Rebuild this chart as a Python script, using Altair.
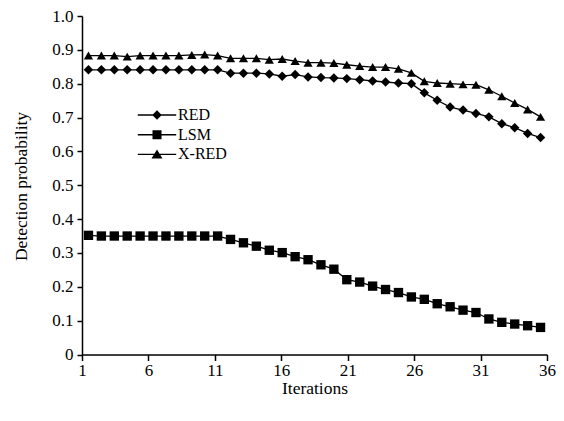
import altair as alt
import pandas as pd

iterations = list(range(1, 37))
red = [0.841, 0.841, 0.841, 0.841, 0.841, 0.841, 0.841, 0.841, 0.841, 0.841, 0.841,
       0.831, 0.831, 0.831, 0.829, 0.822, 0.827, 0.820, 0.818, 0.817, 0.815, 0.812,
       0.808, 0.805, 0.802, 0.800, 0.773, 0.751, 0.731, 0.722, 0.712, 0.702, 0.682,
       0.670, 0.653, 0.641]
lsm = [0.352, 0.350, 0.350, 0.350, 0.350, 0.350, 0.350, 0.350, 0.350, 0.350, 0.350,
       0.340, 0.330, 0.320, 0.308, 0.301, 0.289, 0.280, 0.265, 0.252, 0.221, 0.214,
       0.202, 0.192, 0.183, 0.170, 0.163, 0.150, 0.141, 0.131, 0.124, 0.105, 0.095,
       0.090, 0.085, 0.080]
xred = [0.883, 0.883, 0.883, 0.880, 0.883, 0.883, 0.883, 0.883, 0.885, 0.886, 0.883,
        0.875, 0.875, 0.875, 0.871, 0.873, 0.867, 0.862, 0.862, 0.861, 0.856, 0.852,
        0.849, 0.849, 0.844, 0.832, 0.807, 0.802, 0.800, 0.798, 0.797, 0.782, 0.763,
        0.743, 0.724, 0.702]
series_names = ["RED", "LSM", "X-RED"]
x_tick_labels = [1, 6, 11, 16, 21, 26, 31, 36]
y_ticks = [0.0, 0.1, 0.2, 0.3, 0.4, 0.5, 0.6, 0.7, 0.8, 0.9, 1.0]

rows = []
for name, vals in zip(series_names, [red, lsm, xred]):
    for it, v in zip(iterations, vals):
        rows.append({"iteration": it, "prob": v, "series": name})
df = pd.DataFrame(rows)

# category-style axis: points sit in the middle of their category slot
n_int = len(x_tick_labels) - 1
lo, hi = 0.5, len(iterations) + 0.5
tick_pos = [lo + k * (hi - lo) / n_int for k in range(n_int + 1)]
label_arr = "[" + ",".join(f"'{t}'" for t in x_tick_labels) + "]"
label_expr = f"{label_arr}[round((datum.value - {lo}) * {n_int} / {hi - lo})]"

FONT = "Liberation Serif"

x = alt.X(
    "iteration:Q",
    scale=alt.Scale(domain=[lo, hi], nice=False, zero=False),
    axis=alt.Axis(values=tick_pos, labelExpr=label_expr, title="Iterations",
                  grid=False, tickSize=6, labelPadding=2, labelFlush=False,
                  labelOverlap=False, titleY=34, titleBaseline="middle"),
)
y = alt.Y(
    "prob:Q",
    scale=alt.Scale(domain=[0, 1], nice=False),
    axis=alt.Axis(values=y_ticks,
                  labelExpr="datum.value == 0 ? '0' : format(datum.value, '.1f')",
                  title="Detection probability", grid=False, tickSize=5,
                  labelPadding=4, labelFlush=False, labelOverlap=False,
                  titleX=-61, titleY=170,
                  titleAlign="center", titleBaseline="middle"),
)

bar = "M-3.84,-0.14H3.84V0.14H-3.84Z"
legend_paths = [
    bar + "M-0.95,0L0,-0.95L0.95,0L0,0.95Z",
    bar + "M-0.9,-0.9H0.9V0.9H-0.9Z",
    bar + "M0,-1L1.1,0.8H-1.1Z",
]

base = alt.Chart(df)
lines = base.mark_line(color="black", strokeWidth=1.3).encode(x=x, y=y, detail="series:N")
points = base.mark_point(filled=True, color="black", opacity=1).encode(
    x=x, y=y,
    shape=alt.Shape("series:N",
                    scale=alt.Scale(domain=series_names,
                                    range=["diamond", "square", "triangle-up"]),
                    legend=None),
    size=alt.Size("series:N",
                  scale=alt.Scale(domain=series_names, range=[90, 85, 125]),
                  legend=None),
)
legend_layer = base.mark_point(filled=True, color="black", opacity=0).encode(
    x=x, y=y,
    shape=alt.Shape(
        "series:N",
        scale=alt.Scale(domain=series_names, range=legend_paths),
        legend=alt.Legend(
            title=None, orient="none", legendX=67, legendY=91,
            symbolSize=100, symbolOpacity=1, symbolFillColor="black",
            symbolStrokeColor="black", symbolStrokeWidth=0,
            labelFont=FONT, labelFontSize=16, labelColor="black",
            labelOffset=13, rowPadding=3.7, padding=0,
        ),
    ),
)

chart = (
    alt.layer(lines, points, legend_layer)
    .resolve_scale(shape="independent")
    .properties(width=465, height=338.5, autosize="none",
                padding={"left": 74, "top": 8, "right": 9, "bottom": 46})
    .configure_view(stroke=None)
    .configure_axis(domainColor="black", domainWidth=1.5, tickColor="black",
                    tickWidth=1.5, labelFont=FONT, labelFontSize=17,
                    labelColor="black", titleFont=FONT, titleFontSize=17.5,
                    titleFontWeight="normal", titleColor="black")
)

chart.save("out.html", embed_options={"renderer": "svg", "actions": False})
